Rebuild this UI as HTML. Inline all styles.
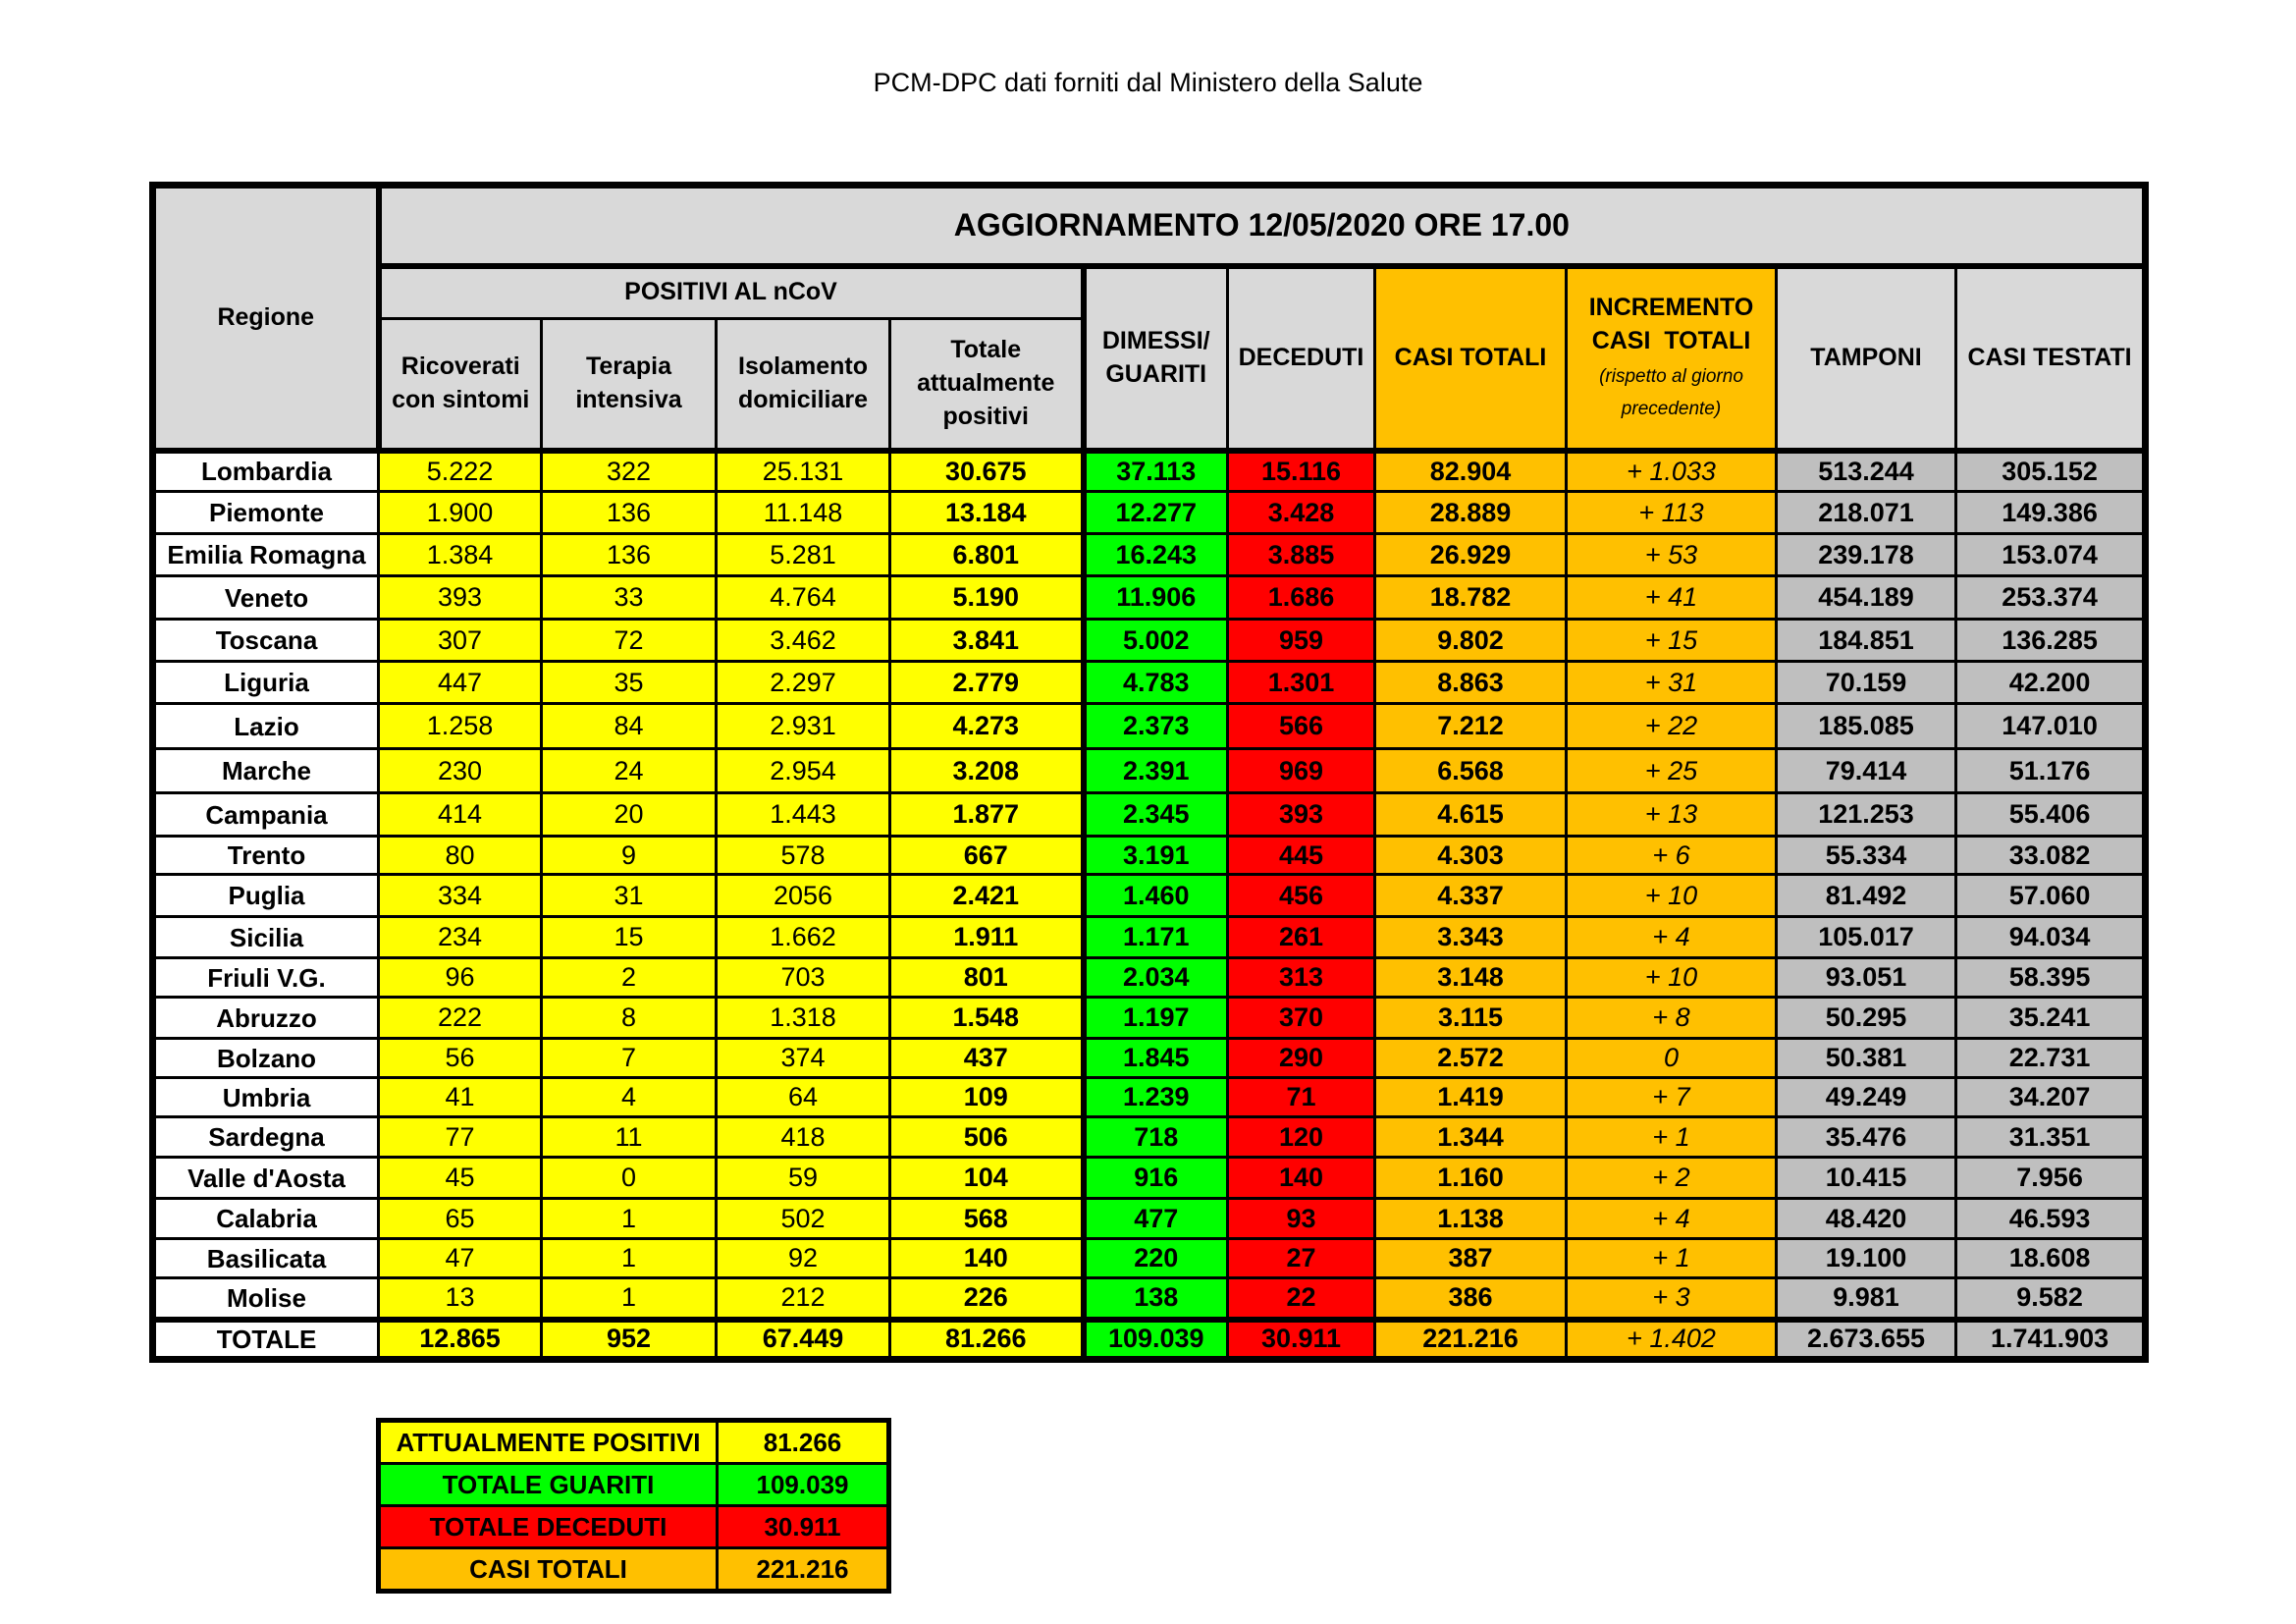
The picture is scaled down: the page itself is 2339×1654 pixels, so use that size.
<!DOCTYPE html>
<html><head><meta charset="utf-8"><style>
html,body{margin:0;padding:0;background:#fff;}
body{width:2339px;height:1654px;position:relative;overflow:hidden;font-family:"Liberation Sans",sans-serif;color:#000;}
.title{position:absolute;left:0;width:2339px;top:69px;text-align:center;font-size:27px;}
table{border-collapse:collapse;table-layout:fixed;position:absolute;}
#t{left:152px;top:185px;width:2030px;border:7px solid #000;}
td{border:3px solid #000;padding:0;text-align:center;vertical-align:middle;font-size:27px;line-height:1;white-space:nowrap;overflow:hidden;}
.h td{background:#d9d9d9;font-weight:bold;font-size:25px;line-height:1.35;}
.h td.o{background:#ffc000;}
.h td.big{font-size:32px;}
.bl{border-left:6px solid #000;}
.bb td{border-bottom:6px solid #000;}
.r{background:#fff;font-weight:bold;font-size:26px;}
.y{background:#ffff00;}
.g{background:#00ff00;font-weight:bold;}
.d{background:#ff0000;font-weight:bold;}
.o{background:#ffc000;}
.ob{background:#ffc000;font-weight:bold;}
.i{background:#ffc000;font-style:italic;}
.s{background:#bfbfbf;font-weight:bold;}
.b{font-weight:bold;}
.tot td{border-top:6px solid #000;font-weight:bold;}
.small{font-weight:normal;font-style:italic;font-size:19px;}
#s{left:383px;top:1444px;width:520px;border:5px solid #000;}
#s td{height:40px;font-weight:bold;font-size:26px;}
</style></head><body>
<div class="title">PCM-DPC dati forniti dal Ministero della Salute</div>
<table id="t">
<colgroup><col style="width:230px"><col style="width:166px"><col style="width:178px"><col style="width:177px"><col style="width:197px"><col style="width:147px"><col style="width:150px"><col style="width:195px"><col style="width:214px"><col style="width:183px"><col style="width:193px"></colgroup>
<tr class="h" style="height:82px"><td rowspan="3" style="border-right:6px solid #000;border-bottom:6px solid #000">Regione</td><td colspan="10" class="big" style="border-bottom:6px solid #000">AGGIORNAMENTO 12/05/2020 ORE 17.00</td></tr>
<tr class="h" style="height:54px"><td colspan="4">POSITIVI AL nCoV</td><td rowspan="2" class="bl" style="border-bottom:6px solid #000">DIMESSI/<br>GUARITI</td><td rowspan="2" style="border-bottom:6px solid #000">DECEDUTI</td><td rowspan="2" class="o" style="border-bottom:6px solid #000">CASI TOTALI</td><td rowspan="2" class="o" style="border-bottom:6px solid #000">INCREMENTO<br>CASI &nbsp;TOTALI<br><span class="small">(rispetto al giorno<br>precedente)</span></td><td rowspan="2" style="border-bottom:6px solid #000">TAMPONI</td><td rowspan="2" style="border-bottom:6px solid #000">CASI TESTATI</td></tr>
<tr class="h bb" style="height:134px"><td>Ricoverati<br>con sintomi</td><td>Terapia<br>intensiva</td><td>Isolamento<br>domiciliare</td><td>Totale<br>attualmente<br>positivi</td></tr>
<tr style="height:42px"><td class="r">Lombardia</td><td class="y">5.222</td><td class="y">322</td><td class="y">25.131</td><td class="y b">30.675</td><td class="g bl">37.113</td><td class="d">15.116</td><td class="ob">82.904</td><td class="i">+ 1.033</td><td class="s">513.244</td><td class="s">305.152</td></tr>
<tr style="height:43px"><td class="r">Piemonte</td><td class="y">1.900</td><td class="y">136</td><td class="y">11.148</td><td class="y b">13.184</td><td class="g bl">12.277</td><td class="d">3.428</td><td class="ob">28.889</td><td class="i">+ 113</td><td class="s">218.071</td><td class="s">149.386</td></tr>
<tr style="height:43px"><td class="r">Emilia Romagna</td><td class="y">1.384</td><td class="y">136</td><td class="y">5.281</td><td class="y b">6.801</td><td class="g bl">16.243</td><td class="d">3.885</td><td class="ob">26.929</td><td class="i">+ 53</td><td class="s">239.178</td><td class="s">153.074</td></tr>
<tr style="height:44px"><td class="r">Veneto</td><td class="y">393</td><td class="y">33</td><td class="y">4.764</td><td class="y b">5.190</td><td class="g bl">11.906</td><td class="d">1.686</td><td class="ob">18.782</td><td class="i">+ 41</td><td class="s">454.189</td><td class="s">253.374</td></tr>
<tr style="height:43px"><td class="r">Toscana</td><td class="y">307</td><td class="y">72</td><td class="y">3.462</td><td class="y b">3.841</td><td class="g bl">5.002</td><td class="d">959</td><td class="ob">9.802</td><td class="i">+ 15</td><td class="s">184.851</td><td class="s">136.285</td></tr>
<tr style="height:43px"><td class="r">Liguria</td><td class="y">447</td><td class="y">35</td><td class="y">2.297</td><td class="y b">2.779</td><td class="g bl">4.783</td><td class="d">1.301</td><td class="ob">8.863</td><td class="i">+ 31</td><td class="s">70.159</td><td class="s">42.200</td></tr>
<tr style="height:46px"><td class="r">Lazio</td><td class="y">1.258</td><td class="y">84</td><td class="y">2.931</td><td class="y b">4.273</td><td class="g bl">2.373</td><td class="d">566</td><td class="ob">7.212</td><td class="i">+ 22</td><td class="s">185.085</td><td class="s">147.010</td></tr>
<tr style="height:45px"><td class="r">Marche</td><td class="y">230</td><td class="y">24</td><td class="y">2.954</td><td class="y b">3.208</td><td class="g bl">2.391</td><td class="d">969</td><td class="ob">6.568</td><td class="i">+ 25</td><td class="s">79.414</td><td class="s">51.176</td></tr>
<tr style="height:44px"><td class="r">Campania</td><td class="y">414</td><td class="y">20</td><td class="y">1.443</td><td class="y b">1.877</td><td class="g bl">2.345</td><td class="d">393</td><td class="ob">4.615</td><td class="i">+ 13</td><td class="s">121.253</td><td class="s">55.406</td></tr>
<tr style="height:39px"><td class="r">Trento</td><td class="y">80</td><td class="y">9</td><td class="y">578</td><td class="y b">667</td><td class="g bl">3.191</td><td class="d">445</td><td class="ob">4.303</td><td class="i">+ 6</td><td class="s">55.334</td><td class="s">33.082</td></tr>
<tr style="height:43px"><td class="r">Puglia</td><td class="y">334</td><td class="y">31</td><td class="y">2056</td><td class="y b">2.421</td><td class="g bl">1.460</td><td class="d">456</td><td class="ob">4.337</td><td class="i">+ 10</td><td class="s">81.492</td><td class="s">57.060</td></tr>
<tr style="height:42px"><td class="r">Sicilia</td><td class="y">234</td><td class="y">15</td><td class="y">1.662</td><td class="y b">1.911</td><td class="g bl">1.171</td><td class="d">261</td><td class="ob">3.343</td><td class="i">+ 4</td><td class="s">105.017</td><td class="s">94.034</td></tr>
<tr style="height:40px"><td class="r">Friuli V.G.</td><td class="y">96</td><td class="y">2</td><td class="y">703</td><td class="y b">801</td><td class="g bl">2.034</td><td class="d">313</td><td class="ob">3.148</td><td class="i">+ 10</td><td class="s">93.051</td><td class="s">58.395</td></tr>
<tr style="height:42px"><td class="r">Abruzzo</td><td class="y">222</td><td class="y">8</td><td class="y">1.318</td><td class="y b">1.548</td><td class="g bl">1.197</td><td class="d">370</td><td class="ob">3.115</td><td class="i">+ 8</td><td class="s">50.295</td><td class="s">35.241</td></tr>
<tr style="height:40px"><td class="r">Bolzano</td><td class="y">56</td><td class="y">7</td><td class="y">374</td><td class="y b">437</td><td class="g bl">1.845</td><td class="d">290</td><td class="ob">2.572</td><td class="i">0</td><td class="s">50.381</td><td class="s">22.731</td></tr>
<tr style="height:40px"><td class="r">Umbria</td><td class="y">41</td><td class="y">4</td><td class="y">64</td><td class="y b">109</td><td class="g bl">1.239</td><td class="d">71</td><td class="ob">1.419</td><td class="i">+ 7</td><td class="s">49.249</td><td class="s">34.207</td></tr>
<tr style="height:41px"><td class="r">Sardegna</td><td class="y">77</td><td class="y">11</td><td class="y">418</td><td class="y b">506</td><td class="g bl">718</td><td class="d">120</td><td class="ob">1.344</td><td class="i">+ 1</td><td class="s">35.476</td><td class="s">31.351</td></tr>
<tr style="height:42px"><td class="r">Valle d'Aosta</td><td class="y">45</td><td class="y">0</td><td class="y">59</td><td class="y b">104</td><td class="g bl">916</td><td class="d">140</td><td class="ob">1.160</td><td class="i">+ 2</td><td class="s">10.415</td><td class="s">7.956</td></tr>
<tr style="height:41px"><td class="r">Calabria</td><td class="y">65</td><td class="y">1</td><td class="y">502</td><td class="y b">568</td><td class="g bl">477</td><td class="d">93</td><td class="ob">1.138</td><td class="i">+ 4</td><td class="s">48.420</td><td class="s">46.593</td></tr>
<tr style="height:40px"><td class="r">Basilicata</td><td class="y">47</td><td class="y">1</td><td class="y">92</td><td class="y b">140</td><td class="g bl">220</td><td class="d">27</td><td class="ob">387</td><td class="i">+ 1</td><td class="s">19.100</td><td class="s">18.608</td></tr>
<tr style="height:42px"><td class="r">Molise</td><td class="y">13</td><td class="y">1</td><td class="y">212</td><td class="y b">226</td><td class="g bl">138</td><td class="d">22</td><td class="ob">386</td><td class="i">+ 3</td><td class="s">9.981</td><td class="s">9.582</td></tr>
<tr class="tot" style="height:41px"><td class="r">TOTALE</td><td class="y">12.865</td><td class="y">952</td><td class="y">67.449</td><td class="y">81.266</td><td class="g bl">109.039</td><td class="d">30.911</td><td class="ob">221.216</td><td class="i" style="font-weight:normal">+ 1.402</td><td class="s">2.673.655</td><td class="s">1.741.903</td></tr>
</table>
<table id="s">
<colgroup><col style="width:345px"><col style="width:175px"></colgroup>
<tr><td class="y">ATTUALMENTE POSITIVI</td><td class="y">81.266</td></tr>
<tr><td class="g">TOTALE GUARITI</td><td class="g">109.039</td></tr>
<tr><td class="d">TOTALE DECEDUTI</td><td class="d">30.911</td></tr>
<tr><td class="o">CASI TOTALI</td><td class="o">221.216</td></tr>
</table>
</body></html>
